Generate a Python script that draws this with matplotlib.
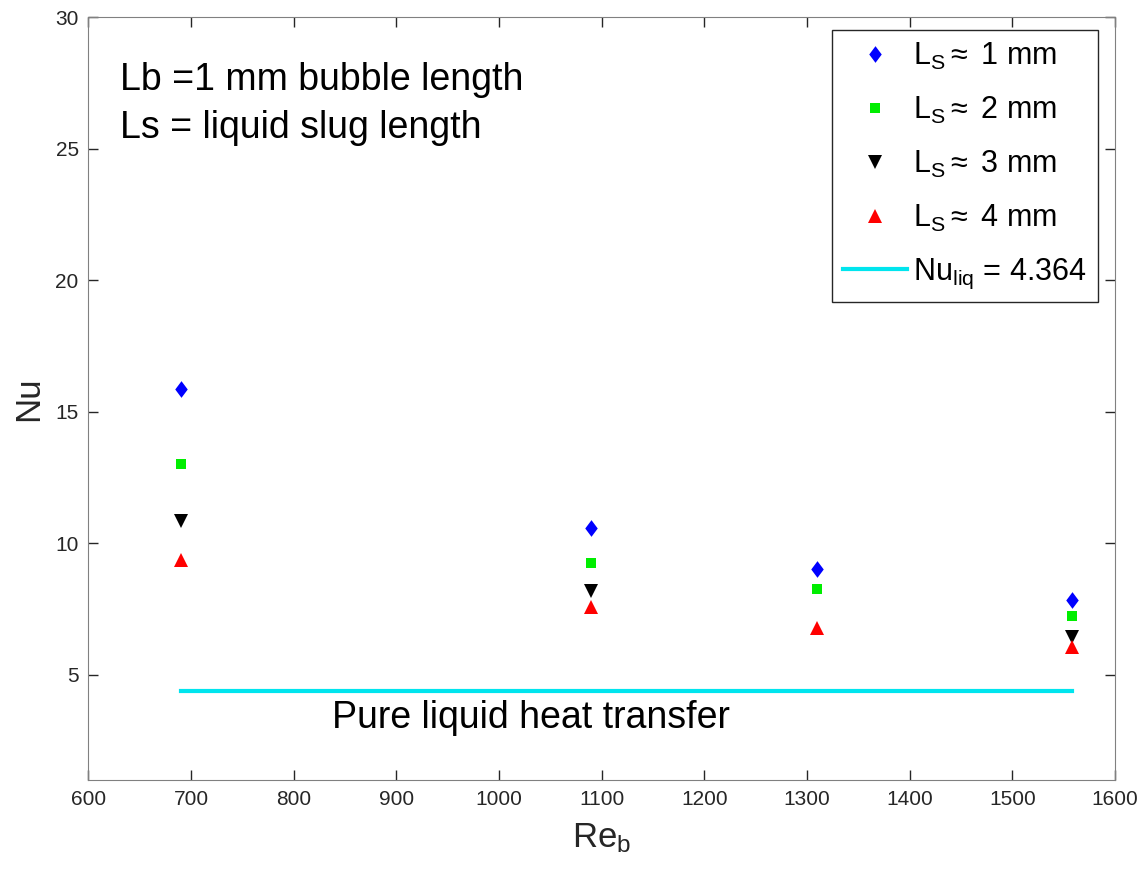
import matplotlib
matplotlib.use("Agg")
import matplotlib.pyplot as plt

plt.rcParams['font.family'] = ['Liberation Sans', 'DejaVu Sans']
plt.rcParams['mathtext.fontset'] = 'custom'
plt.rcParams['mathtext.rm'] = 'Liberation Sans'
plt.rcParams['mathtext.it'] = 'Liberation Sans'

# Reynolds numbers of the bubble
re_b = [690, 1090, 1310, 1558]

# Nusselt number for each liquid slug length (None = no point)
nu_ls1 = [15.85, 10.58, 9.03, 7.83]
nu_ls2 = [13.0, 9.23, 8.27, 7.24]
nu_ls3 = [10.86, 8.2, None, 6.42]
nu_ls4 = [9.37, 7.57, 6.77, 6.07]

nu_liq = 4.364
liq_range = [690, 1558]

# MATLAB style diamond (wider than matplotlib's 'd')
diamond = [(0, 1), (0.75, 0), (0, -1), (-0.75, 0), (0, 1)]

series = [
    (nu_ls1, diamond, 'blue', r'$\mathregular{L_S} \approx$ 1 mm', 12),
    (nu_ls2, 's', '#00ee00', r'$\mathregular{L_S} \approx$ 2 mm', 7.5),
    (nu_ls3, 'v', 'black', r'$\mathregular{L_S} \approx$ 3 mm', 10),
    (nu_ls4, '^', 'red', r'$\mathregular{L_S} \approx$ 4 mm', 10),
]

fig = plt.figure(figsize=(11.4, 8.72), dpi=100)
ax = fig.add_axes([0.0775, 0.1055, 0.9005, 0.875])

for vals, mk, col, lab, ms in series:
    xs = [x for x, v in zip(re_b, vals) if v is not None]
    ys = [v for v in vals if v is not None]
    ax.plot(xs, ys, linestyle='none', marker=mk, color=col, markersize=ms,
            markeredgewidth=0, label=lab)

ax.plot(liq_range, [nu_liq, nu_liq], color='#00e5ee', linewidth=3,
        label=r'$\mathregular{Nu_{liq}}$ = 4.364')

ax.text(1031, 3.37, 'Pure liquid heat transfer', fontsize=27, ha='center', va='center')
ax.text(631, 27.6, 'Lb =1 mm bubble length', fontsize=27, ha='left', va='center')
ax.text(631, 25.8, 'Ls = liquid slug length', fontsize=27, ha='left', va='center')

ax.set_xlim(600, 1600)
ax.set_ylim(1, 30)
ax.set_xticks(range(600, 1601, 100))
ax.set_yticks([5, 10, 15, 20, 25, 30])
ax.set_xlabel(r'$\mathregular{Re_b}$', fontsize=25, color='#262626', labelpad=9)
ax.set_ylabel('Nu', fontsize=25, color='#262626', labelpad=7)

for s in ax.spines.values():
    s.set_color('#808080')
ax.tick_params(direction='in', top=True, right=True, length=7, width=1,
               color='#262626', labelsize=15, labelcolor='#262626', pad=7)

leg = ax.legend(loc='upper right', bbox_to_anchor=(0.9834, 0.983), borderaxespad=0,
                fontsize=22, frameon=True, fancybox=False, framealpha=1,
                borderpad=0.35, labelspacing=0.75, handlelength=2.1,
                handletextpad=0.2)
leg.get_frame().set_edgecolor('#262626')
leg.get_frame().set_linewidth(1)

fig.savefig('out.png', dpi=100)
